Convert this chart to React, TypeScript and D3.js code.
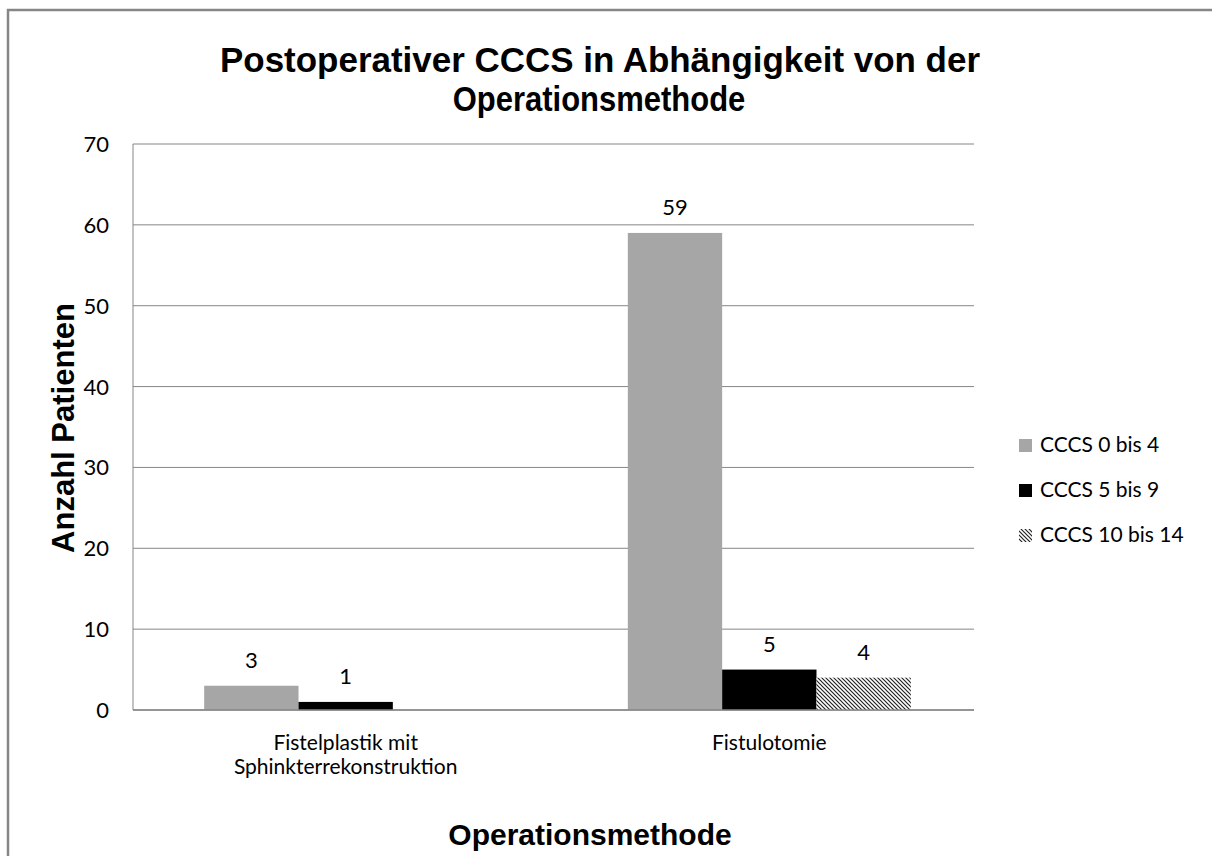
import React from "react";
import * as d3 from "d3";

const categories = ["Fistelplastik mit\nSphinkterrekonstruktion", "Fistulotomie"];
const seriesNames = ["CCCS 0 bis 4", "CCCS 5 bis 9", "CCCS 10 bis 14"];
const series0 = [3, 59];
const series1 = [1, 5];
const series2 = [0, 4];
const yTicks = [0, 10, 20, 30, 40, 50, 60, 70];
const titleLines = ["Postoperativer CCCS in Abhängigkeit von der", "Operationsmethode"];
const yTitle = "Anzahl Patienten";
const xTitle = "Operationsmethode";

export default function App() {
  const W = 1212, H = 856;
  const left = 133, right = 974, top = 144, bottom = 710;
  const y = d3.scaleLinear().domain([0, 70]).range([bottom, top]);
  const x0 = d3.scaleBand().domain(categories).range([133, 982]).paddingInner(0.332).paddingOuter(0.168);
  const x1 = d3.scaleBand().domain(seriesNames).range([0, x0.bandwidth()]);
  const data = [series0, series1, series2];
  const fills = ["#a6a6a6", "#000000", "url(#hatch)"];
  const gridColor = "#868686";
  const tickFont = "Lato, 'Open Sans', sans-serif";
  const boldFont = "'Liberation Sans', Arial, sans-serif";

  return (
    <svg width={W} height={H} style={{ position: "absolute", left: 0, top: 0, background: "#fff" }}>
      <defs>
        <pattern id="hatch" patternUnits="userSpaceOnUse" width="4" height="4">
          <rect width="4" height="4" fill="#fff" />
          <path d="M-1,-1 L5,5 M-1,3 L1,5 M3,-1 L5,1" stroke="#222" strokeWidth="1.2" />
        </pattern>
      </defs>
      <rect x={8} y={10} width={W + 20} height={H + 20} fill="none" stroke="#868686" strokeWidth={2.5} />
      <text transform="translate(600,72) scale(1,1.15)" textAnchor="middle" fontFamily={boldFont} fontWeight="bold" fontSize={31} fill="#000" textLength={760} lengthAdjust="spacingAndGlyphs">{titleLines[0]}</text>
      <text transform="translate(599,111) scale(1,1.15)" textAnchor="middle" fontFamily={boldFont} fontWeight="bold" fontSize={31} fill="#000">{titleLines[1]}</text>
      {yTicks.map((t) => (
        <g key={t}>
          <line x1={left} x2={right} y1={y(t)} y2={y(t)} stroke={gridColor} strokeWidth={1} />
          <text x={109} y={y(t) + 8} textAnchor="end" fontFamily={tickFont} fontSize={22} fill="#000">{t}</text>
        </g>
      ))}
      <line x1={left} x2={left} y1={top} y2={bottom} stroke={gridColor} strokeWidth={1} />
      {categories.map((c, ci) => (
        <g key={c}>
          {seriesNames.map((s, si) => {
            const v = data[si][ci];
            const bx = (x0(c) as number) + (x1(s) as number);
            const bw = x1.bandwidth();
            return (
              <g key={s}>
                {v > 0 && <rect x={bx} y={y(v)} width={bw} height={bottom - y(v)} fill={fills[si]} />}
                {v > 0 && (
                  <text x={bx + bw / 2} y={y(v) - 18} textAnchor="middle" fontFamily={tickFont} fontSize={22} fill="#000">{v}</text>
                )}
              </g>
            );
          })}
          {c.split("\n").map((ln, li) => (
            <text key={li} x={(x0(c) as number) + x0.bandwidth() / 2} y={750 + li * 24} textAnchor="middle" fontFamily={tickFont} fontSize={21} fill="#000">{ln}</text>
          ))}
        </g>
      ))}
      <line x1={left} x2={right} y1={bottom} y2={bottom} stroke={gridColor} strokeWidth={1.5} />
      <text transform={`translate(74,428) rotate(-90)`} textAnchor="middle" fontFamily={boldFont} fontWeight="bold" fontSize={31} fill="#000">{yTitle}</text>
      <text x={590} y={845} textAnchor="middle" fontFamily={boldFont} fontWeight="bold" fontSize={30} fill="#000">{xTitle}</text>
      {seriesNames.map((s, i) => (
        <g key={s}>
          <rect x={1019} y={439 + i * 45} width={13} height={13} fill={fills[i]} />
          <text x={1040} y={452 + i * 45} fontFamily={tickFont} fontSize={21} fill="#000">{s}</text>
        </g>
      ))}
    </svg>
  );
}
